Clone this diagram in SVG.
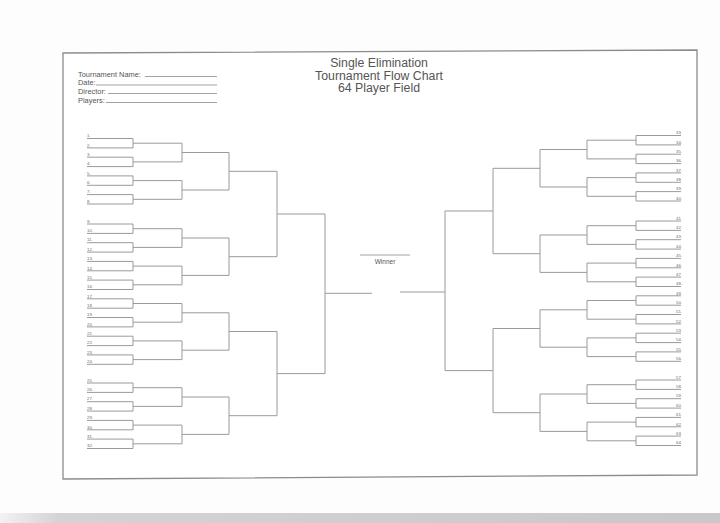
<svg xmlns="http://www.w3.org/2000/svg" width="720" height="523" viewBox="0 0 720 523">
<defs>
<style>
.pl{stroke:#9a9a9a;stroke-width:1;fill:none}
.cn{stroke:#9a9a9a;stroke-width:1;fill:none}
.lb{font-family:"Liberation Sans",Arial,sans-serif;font-size:4.3px;fill:#6a6a6a}
.lr{font-family:"Liberation Sans",Arial,sans-serif;font-size:4.3px;fill:#6a6a6a;text-anchor:end}
.hd{font-family:"Liberation Sans",Arial,sans-serif;font-size:7.4px;fill:#555}
.tt{font-family:"Liberation Sans",Arial,sans-serif;font-size:12.3px;fill:#555;text-anchor:middle}
.ul{stroke:#8a8a8a;stroke-width:0.8}
</style>
<linearGradient id="band" x1="0" y1="0" x2="1" y2="0">
<stop offset="0" stop-color="#f2f2f2"/>
<stop offset="0.08" stop-color="#d4d4d4"/>
<stop offset="1" stop-color="#c8c8c8"/>
</linearGradient>
</defs>
<rect width="720" height="523" fill="#fdfdfd"/>
<rect x="0" y="513" width="720" height="10" fill="url(#band)"/>
<polygon points="63,53 697,50 697,475 63,479" fill="#ffffff" stroke="#8c8c8c" stroke-width="1.3"/>

<g id="title">
<text class="tt" x="379" y="67">Single Elimination</text>
<text class="tt" x="379" y="79.5">Tournament Flow Chart</text>
<text class="tt" x="379" y="92">64 Player Field</text>
</g>

<g id="header">
<text class="hd" x="78" y="76.5">Tournament Name:</text>
<line class="ul" x1="145" y1="76.5" x2="217" y2="76.5"/>
<text class="hd" x="78" y="85">Date:</text>
<line class="ul" x1="96" y1="85" x2="217" y2="85"/>
<text class="hd" x="78" y="93.5">Director:</text>
<line class="ul" x1="108" y1="93.5" x2="217" y2="93.5"/>
<text class="hd" x="78" y="102.5">Players:</text>
<line class="ul" x1="106" y1="102.5" x2="217" y2="102.5"/>
</g>

<g id="winner">
<line class="ul" x1="360" y1="255" x2="410" y2="255"/>
<text class="hd" x="385" y="263.5" text-anchor="middle" style="font-size:6.5px">Winner</text>
</g>

<g id="connectors">
<path class="cn" d="M133 138.5V147.9M133 143.2H182M133 157.2V166.6M133 161.9H182M133 175.9V185.3M133 180.6H182M133 194.6V204M133 199.3H182M133 224V233.4M133 228.7H182M133 242.7V252.1M133 247.4H182M133 261.4V270.8M133 266.1H182M133 280.1V289.5M133 284.8H182M133 298.8V308.2M133 303.5H182M133 317.5V326.9M133 322.2H182M133 336.2V345.6M133 340.9H182M133 354.9V364.3M133 359.6H182M133 383V392.4M133 387.7H182M133 401.7V411.1M133 406.4H182M133 420.4V429.8M133 425.1H182M133 439.1V448.5M133 443.8H182"/>
<path class="cn" d="M182 143.2V161.9M182 152.5H229M182 180.6V199.3M182 190H229M182 228.7V247.4M182 238H229M182 266.1V284.8M182 275.4H229M182 303.5V322.2M182 312.8H229M182 340.9V359.6M182 350.2H229M182 387.7V406.4M182 397H229M182 425.1V443.8M182 434.4H229"/>
<path class="cn" d="M229 152.5V190M229 171.3H277M229 238V275.4M229 256.7H277M229 312.8V350.2M229 331.5H277M229 397V434.4M229 415.7H277"/>
<path class="cn" d="M277 171.3V256.7M277 214H325M277 331.5V415.7M277 373.6H325"/>
<path class="cn" d="M325 214V373.6M325 293.3H372"/>
<path class="cn" d="M636 135.5V144.9M636 140.2H587M636 154.2V163.6M636 158.9H587M636 172.9V182.3M636 177.6H587M636 191.6V201M636 196.3H587M636 221V230.4M636 225.7H587M636 239.7V249.1M636 244.4H587M636 258.4V267.8M636 263.1H587M636 277.1V286.5M636 281.8H587M636 295.8V305.2M636 300.5H587M636 314.5V323.9M636 319.2H587M636 333.2V342.6M636 337.9H587M636 351.9V361.3M636 356.6H587M636 380V389.4M636 384.7H587M636 398.7V408.1M636 403.4H587M636 417.4V426.8M636 422.1H587M636 436.1V445.5M636 440.8H587"/>
<path class="cn" d="M587 140.2V158.9M587 149.5H540M587 177.6V196.3M587 187H540M587 225.7V244.4M587 235H540M587 263.1V281.8M587 272.4H540M587 300.5V319.2M587 309.8H540M587 337.9V356.6M587 347.2H540M587 384.7V403.4M587 394H540M587 422.1V440.8M587 431.4H540"/>
<path class="cn" d="M540 149.5V187M540 168.3H493M540 235V272.4M540 253.7H493M540 309.8V347.2M540 328.5H493M540 394V431.4M540 412.7H493"/>
<path class="cn" d="M493 168.3V253.7M493 211H445M493 328.5V412.7M493 370.6H445"/>
<path class="cn" d="M445 211V370.6M445 292H400"/>
</g>

<g id="left-players">
<g id="p1"><path class="pl" d="M87 138.5H133"/><text class="lb" x="87" y="137.2">1.</text></g>
<g id="p2"><path class="pl" d="M87 147.9H133"/><text class="lb" x="87" y="146.6">2.</text></g>
<g id="p3"><path class="pl" d="M87 157.2H133"/><text class="lb" x="87" y="155.9">3.</text></g>
<g id="p4"><path class="pl" d="M87 166.6H133"/><text class="lb" x="87" y="165.3">4.</text></g>
<g id="p5"><path class="pl" d="M87 175.9H133"/><text class="lb" x="87" y="174.6">5.</text></g>
<g id="p6"><path class="pl" d="M87 185.3H133"/><text class="lb" x="87" y="184">6.</text></g>
<g id="p7"><path class="pl" d="M87 194.6H133"/><text class="lb" x="87" y="193.3">7.</text></g>
<g id="p8"><path class="pl" d="M87 204H133"/><text class="lb" x="87" y="202.7">8.</text></g>
<g id="p9"><path class="pl" d="M87 224H133"/><text class="lb" x="87" y="222.7">9.</text></g>
<g id="p10"><path class="pl" d="M87 233.4H133"/><text class="lb" x="87" y="232.1">10.</text></g>
<g id="p11"><path class="pl" d="M87 242.7H133"/><text class="lb" x="87" y="241.4">11.</text></g>
<g id="p12"><path class="pl" d="M87 252.1H133"/><text class="lb" x="87" y="250.8">12.</text></g>
<g id="p13"><path class="pl" d="M87 261.4H133"/><text class="lb" x="87" y="260.1">13.</text></g>
<g id="p14"><path class="pl" d="M87 270.8H133"/><text class="lb" x="87" y="269.5">14.</text></g>
<g id="p15"><path class="pl" d="M87 280.1H133"/><text class="lb" x="87" y="278.8">15.</text></g>
<g id="p16"><path class="pl" d="M87 289.5H133"/><text class="lb" x="87" y="288.2">16.</text></g>
<g id="p17"><path class="pl" d="M87 298.8H133"/><text class="lb" x="87" y="297.5">17.</text></g>
<g id="p18"><path class="pl" d="M87 308.2H133"/><text class="lb" x="87" y="306.9">18.</text></g>
<g id="p19"><path class="pl" d="M87 317.5H133"/><text class="lb" x="87" y="316.2">19.</text></g>
<g id="p20"><path class="pl" d="M87 326.9H133"/><text class="lb" x="87" y="325.6">20.</text></g>
<g id="p21"><path class="pl" d="M87 336.2H133"/><text class="lb" x="87" y="334.9">21.</text></g>
<g id="p22"><path class="pl" d="M87 345.6H133"/><text class="lb" x="87" y="344.3">22.</text></g>
<g id="p23"><path class="pl" d="M87 354.9H133"/><text class="lb" x="87" y="353.6">23.</text></g>
<g id="p24"><path class="pl" d="M87 364.3H133"/><text class="lb" x="87" y="363">24.</text></g>
<g id="p25"><path class="pl" d="M87 383H133"/><text class="lb" x="87" y="381.7">25.</text></g>
<g id="p26"><path class="pl" d="M87 392.4H133"/><text class="lb" x="87" y="391.1">26.</text></g>
<g id="p27"><path class="pl" d="M87 401.7H133"/><text class="lb" x="87" y="400.4">27.</text></g>
<g id="p28"><path class="pl" d="M87 411.1H133"/><text class="lb" x="87" y="409.8">28.</text></g>
<g id="p29"><path class="pl" d="M87 420.4H133"/><text class="lb" x="87" y="419.1">29.</text></g>
<g id="p30"><path class="pl" d="M87 429.8H133"/><text class="lb" x="87" y="428.5">30.</text></g>
<g id="p31"><path class="pl" d="M87 439.1H133"/><text class="lb" x="87" y="437.8">31.</text></g>
<g id="p32"><path class="pl" d="M87 448.5H133"/><text class="lb" x="87" y="447.2">32.</text></g>
</g>

<g id="right-players">
<g id="p33"><path class="pl" d="M636 135.5H681"/><text class="lr" x="682" y="134.2">33.</text></g>
<g id="p34"><path class="pl" d="M636 144.9H681"/><text class="lr" x="682" y="143.6">34.</text></g>
<g id="p35"><path class="pl" d="M636 154.2H681"/><text class="lr" x="682" y="152.9">35.</text></g>
<g id="p36"><path class="pl" d="M636 163.6H681"/><text class="lr" x="682" y="162.3">36.</text></g>
<g id="p37"><path class="pl" d="M636 172.9H681"/><text class="lr" x="682" y="171.6">37.</text></g>
<g id="p38"><path class="pl" d="M636 182.3H681"/><text class="lr" x="682" y="181">38.</text></g>
<g id="p39"><path class="pl" d="M636 191.6H681"/><text class="lr" x="682" y="190.3">39.</text></g>
<g id="p40"><path class="pl" d="M636 201H681"/><text class="lr" x="682" y="199.7">40.</text></g>
<g id="p41"><path class="pl" d="M636 221H681"/><text class="lr" x="682" y="219.7">41.</text></g>
<g id="p42"><path class="pl" d="M636 230.4H681"/><text class="lr" x="682" y="229.1">42.</text></g>
<g id="p43"><path class="pl" d="M636 239.7H681"/><text class="lr" x="682" y="238.4">43.</text></g>
<g id="p44"><path class="pl" d="M636 249.1H681"/><text class="lr" x="682" y="247.8">44.</text></g>
<g id="p45"><path class="pl" d="M636 258.4H681"/><text class="lr" x="682" y="257.1">45.</text></g>
<g id="p46"><path class="pl" d="M636 267.8H681"/><text class="lr" x="682" y="266.5">46.</text></g>
<g id="p47"><path class="pl" d="M636 277.1H681"/><text class="lr" x="682" y="275.8">47.</text></g>
<g id="p48"><path class="pl" d="M636 286.5H681"/><text class="lr" x="682" y="285.2">48.</text></g>
<g id="p49"><path class="pl" d="M636 295.8H681"/><text class="lr" x="682" y="294.5">49.</text></g>
<g id="p50"><path class="pl" d="M636 305.2H681"/><text class="lr" x="682" y="303.9">50.</text></g>
<g id="p51"><path class="pl" d="M636 314.5H681"/><text class="lr" x="682" y="313.2">51.</text></g>
<g id="p52"><path class="pl" d="M636 323.9H681"/><text class="lr" x="682" y="322.6">52.</text></g>
<g id="p53"><path class="pl" d="M636 333.2H681"/><text class="lr" x="682" y="331.9">53.</text></g>
<g id="p54"><path class="pl" d="M636 342.6H681"/><text class="lr" x="682" y="341.3">54.</text></g>
<g id="p55"><path class="pl" d="M636 351.9H681"/><text class="lr" x="682" y="350.6">55.</text></g>
<g id="p56"><path class="pl" d="M636 361.3H681"/><text class="lr" x="682" y="360">56.</text></g>
<g id="p57"><path class="pl" d="M636 380H681"/><text class="lr" x="682" y="378.7">57.</text></g>
<g id="p58"><path class="pl" d="M636 389.4H681"/><text class="lr" x="682" y="388.1">58.</text></g>
<g id="p59"><path class="pl" d="M636 398.7H681"/><text class="lr" x="682" y="397.4">59.</text></g>
<g id="p60"><path class="pl" d="M636 408.1H681"/><text class="lr" x="682" y="406.8">60.</text></g>
<g id="p61"><path class="pl" d="M636 417.4H681"/><text class="lr" x="682" y="416.1">61.</text></g>
<g id="p62"><path class="pl" d="M636 426.8H681"/><text class="lr" x="682" y="425.5">62.</text></g>
<g id="p63"><path class="pl" d="M636 436.1H681"/><text class="lr" x="682" y="434.8">63.</text></g>
<g id="p64"><path class="pl" d="M636 445.5H681"/><text class="lr" x="682" y="444.2">64.</text></g>
</g>
</svg>
